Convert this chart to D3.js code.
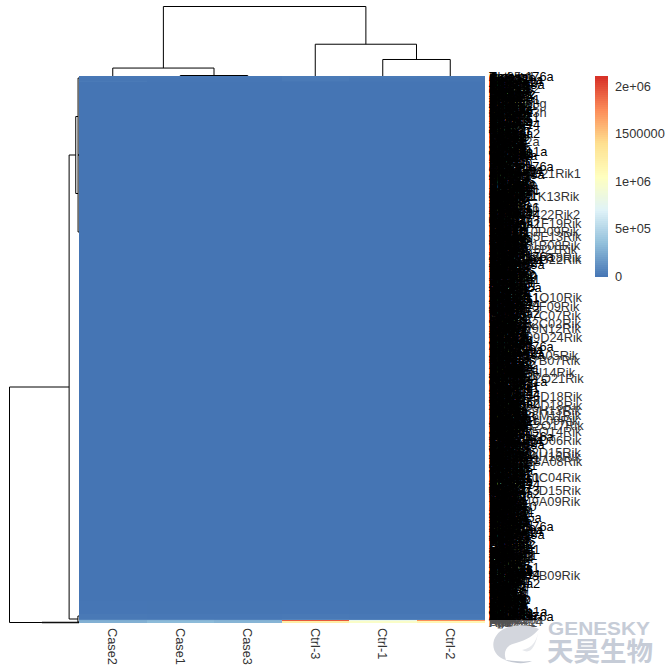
<!DOCTYPE html>
<html><head><meta charset="utf-8">
<script src="https://cdn.jsdelivr.net/npm/d3@7"></script>
<style>html,body{margin:0;padding:0;background:#fff}svg{display:block}text{font-family:"Liberation Sans",Arial,sans-serif}</style>
</head><body><div id="chart"></div>
<script>
const samples = ["Case2","Case1","Case3","Ctrl-3","Ctrl-1","Ctrl-2"];
const rowCount = 2188;

// heat blocks: groups of near-identical rows (first row, one past last row)
const blockFirstRow = [0,8,20,24,2100,2150,2170,2176,2180];
const blockLastRow  = [8,20,24,2100,2150,2170,2176,2180,2188];
const valCase2 = [15000,10000,25000,0,5000,20000,60000,260000,280000];
const valCase1 = [15000,5000,5000,0,4000,15000,60000,300000,330000];
const valCase3 = [15000,5000,5000,0,4000,15000,50000,280000,300000];
const valCtrl3 = [30000,25000,10000,0,5000,20000,70000,1950000,1250000];
const valCtrl1 = [25000,8000,5000,0,4000,15000,60000,800000,1000000];
const valCtrl2 = [20000,8000,5000,0,4000,15000,50000,1750000,1150000];
const sampleValues = [valCase2,valCase1,valCase3,valCtrl3,valCtrl1,valCtrl2];

// colour key
const legendMax = 2105000;
const legendTicks = [0,500000,1000000,1500000,2000000];
const legendTickLabels = ["0","5e+05","1e+06","1500000","2e+06"];
const palette = ["#4575B4","#91BFDB","#E0F3F8","#FFFFBF","#FEE090","#FC8D59","#D73027"];

// column tree: [child, child, height]; negative child = leaf -(i+1), otherwise merge index
const colMerges = [[-2,-3,0.25],[-1,0,4.0],[-5,-6,8.31],[-4,2,16.0],[1,3,35.0]];
const colTreeMax = 35.0;

// row tree: same coding, leaves are row numbers -(row+1)
const rowMerges = [
 [-9,-317,0.6],[-317,-625,0.6],[0,1,2.1],
 [-2161,-2185,0.7],[2,3,6.4],
 [-2186,-2188,24.0],[4,5,45.0]];
const rowTreeMax = 45.0;

// gene labels that stick out on the right, with their row
const longNames = ["Slc25a1","Serpinb2","Pcdhga3g","Apobec3h","Nudt22","Ccdc12a","Wnt10b","170016D21Rik1","Ugt1a7e","6330411K13Rik","Tmem26","630404K22Rik2","D630041F19Rik","2010110P09Rik","A630095E13Rik","9330161B08Rik","C130026I21Rik","B230118H18Rik","4930412G22Rik","Gpr153","Snord30","Rps12","A930011O10Rik","4833420F09Rik","5730507C07Rik","2900092C02Rik","1700019N12Rik","E130309D24Rik","1110034A05Rik","2610507B07Rik","4930526I14Rik","D430042O21Rik","B130006D18Rik","A830080D18Rik","2310039H13Rik","9530036M11Rik","1810041L09Rik","C230012O17Rik","4921525O14Rik","1500015O06Rik","9930022D15Rik","4632404H16Rik","C330018A08Rik","5031410C04Rik","6030443D15Rik","2700049A09Rik","Tdrd1a","Hspa12","Capn2a","Hoxa5a","Klk1b","6030408B09Rik","Ccl12","Zfp36g","Ptprb","Mrpl2","Nudt2","Krtaa1","Rpl1"];
const longRows  = [0,48,108,144,228,260,316,388,432,480,524,552,588,620,640,676,692,724,732,752,800,848,884,920,956,988,1008,1044,1116,1136,1184,1208,1280,1316,1336,1356,1376,1396,1420,1456,1504,1520,1540,1604,1656,1700,1768,1828,1904,1928,1984,1996,2008,2048,2088,2116,2136,2160,2184];

// the dense block of row labels, read in the order of the tree
const denseNames = "Actb Gapdh Eef1a1 Rpl3 Rps2 Fth1 Ftl1 Hspa8 Ubb Ubc Cd74 Lyz2 Sparcl1 Col1a1 Mgp Dcn Lum Bgn Vim Tmsb4x Tagln2 Acta2 Myl9 Cald1 Tpm2 Sncg Cst3 Apoe Clu Ctsd Ctsb Lgals1 Anxa11 Anxa2 S100a6 S100a4 Ppia Pfn1 Cfl1 Ywhaz Sod1 Prdx1 Gstp1 Mt1 Hmox1 Nfkb1 Rela Stat3 Jun Fos Egr1 Myc Atf3 Klf4 Klf2 Sox9 Gata3 Pax6 Tbx3 Foxa1 Hnf4a Cebpb Ppara Pparg2 Srebf1 Fasn Scd1 Acaca Elovl6 Ldlr Hmgcr Abca1 Apoa1 Alb Ttr Serpina1a Cyp2e1 Cyp1a2 Gstm1 Ugt1a6a Aldob Pck1 G6pc Mup1 Hp Fgb Fga Ins2 Gcg Sst Ppy Cpa1 Ctrb1 Prss2 Cela1 Amy2a5 Myh7 Myh6 Tnnt2 Actc1 Mb Ckm Pln Ryr2 Nppa Nppb Slc2a4 Slc7a5 Slc1a3 Slc6a4 Slc16a3 Kcnj11 Kcna2 Scn1a Cacna1c Gabra1 Gria2 Grin1 Syt1 Snap25 Stx1a Vamp2 Map2 Mapt Tubb3 Nefl Gfap Aqp4 Olig2 Mbp Plp1 Mog Cd4 Cd8a Cd3e Cd19 Cd68 Itgam Ptprc Il6 Il1b Tnf Ccl2 Cxcl1 Cxcl10 Ifng Tgfb1 Vegfa Pdgfrb Egfr Fgfr1 Igf1 Igf2 Wnt5a Fzd7 Ctnnb1 Notch1 Jag1 Hes1 Shh Gli1 Bmp4 Smad3 Tp53 Cdkn1a Ccnd1 Ccnb1 Cdk1 Mki67 Top2a Pcna Mcm2 Rad51 Brca1 Atm Bax Bcl2 Casp3 Mtor Akt1 Pten Kras Raf1 Mapk1 Lmna Tln1 Vcl Itgb1 Cdh1 Cdh2 Cldn5 Ocln Tjp1 Gja1 Lamb1 Nid1 Hspg2 Mmp2 Mmp9 Timp1 Adam10 Ntf3 Bdnf Ngf Rbfox3 Dlg4 Homer1 Arc Nr4a1 Dusp1 Ier2 Gadd45a Sirt1 Prkaa1 Ndufa1 Cox4i1 Atp5a1 Cycs Tfam Polg Xist Malat1 Neat1 Meg3 Snhg1 Gas5 Hbb Hba Alas2 Tfrc".split(" ");
// longer names that make the block's fuzzy right edge
const edgeNames = "Tmem176a Ccdc80 Fam129a Slc39a14 Arhgap2 Ppp1r15a Zfp36l1 Rnf213 Pdlim5 Tnfaip3 Nfkbia Sema3c Plekha2 Dnajb9 Hspa1a Serpine1 Igfbp5 Thbs1 Ankrd1 Rasgrp1 Cacnb2 Ttc39b Kcnq1 Mylk3 Lrrc32 Tspan8 Gpr116 Adamts1 Ptpn13 Sh3bp5 Rab11a Atp2a2 Cyp4a14 Abcc9 Tcf7l2 Pcdh17 Ephb2 Nedd4l Smarca2 Wdr81 Trim21 Usp18 Ifit3b Oasl2 Irf7a Mx1a2 Stat5b Rgs16 Gpnmb Zbtb16 Lgals3 Sprr1a Krt18a Muc13 Tgm2a Pik3r1 Rictor1 Mical2 Dock10 Atg16l1".split(" ");

const W=672, H=672;
const heat={left:79,right:484,top:76,bottom:623};
const svg=d3.select("#chart").append("svg").attr("width",W).attr("height",H);
const fontSize=12.8;

const x=d3.scaleBand().domain(d3.range(samples.length)).range([heat.left,heat.right]);
const y=d3.scaleLinear().domain([0,rowCount]).range([heat.top,heat.bottom]);
const colour=d3.scaleLinear().domain(palette.map((c,i)=>i*legendMax/(palette.length-1))).range(palette).interpolate(d3.interpolateRgb);

// heat cells
const cells=[];
sampleValues.forEach((vals,c)=>vals.forEach((v,b)=>cells.push({c,b,v})));
svg.append("g").attr("shape-rendering","crispEdges").selectAll("rect").data(cells).join("rect")
 .attr("x",d=>x(d.c)).attr("width",x.bandwidth()+0.5)
 .attr("y",d=>y(blockFirstRow[d.b])).attr("height",d=>y(blockLastRow[d.b])-y(blockFirstRow[d.b]))
 .attr("fill",d=>colour(d.v));

// dendrograms
function drawTree(merges,leafPos,heightPos,vertical){
  const pos=ref=>{
    if(ref<0) return {p:leafPos(-ref-1),h:heightPos(0)};
    const m=merges[ref], a=pos(m[0]), b=pos(m[1]);
    return {p:(a.p+b.p)/2,h:heightPos(m[2])};
  };
  const g=svg.append("g").attr("fill","none").attr("stroke","#000").attr("stroke-width",1);
  merges.forEach(m=>{
    const a=pos(m[0]), b=pos(m[1]), h=heightPos(m[2]);
    const pts=[[a.h,a.p],[h,a.p],[h,b.p],[b.h,b.p]];
    g.append("path").attr("d",d3.line().x(q=>vertical?q[1]:q[0]).y(q=>vertical?q[0]:q[1])(pts));
  });
}
const colLeaf=i=>x(i)+x.bandwidth()/2;
drawTree(colMerges,colLeaf,d3.scaleLinear().domain([0,colTreeMax]).range([heat.top,6.5]),true);
drawTree(rowMerges,r=>y(r),d3.scaleLinear().domain([0,rowTreeMax]).range([heat.left,9.5]),false);

// row labels: the long ones lie under the dense block, only their tails show
const rowG=svg.append("g").attr("font-size",fontSize).attr("fill","#000");
rowG.selectAll("text.l").data(longNames).join("text").attr("class","l")
 .attr("x",489).attr("y",(d,i)=>y(longRows[i])).attr("dy","0.36em").attr("fill","#333").text(d=>d);
const edgeRows=d3.range(2,rowCount,6);
rowG.selectAll("text.e").data(edgeRows).join("text").attr("class","e")
 .attr("x",489).attr("y",r=>y(r)).attr("dy","0.36em")
 .text((r,i)=>edgeNames[i%edgeNames.length]);
const denseRows=d3.range(0,rowCount,4);
rowG.selectAll("text.d").data(denseRows).join("text").attr("class","d")
 .attr("x",489).attr("y",r=>y(r)).attr("dy","0.36em")
 .text((r,i)=>denseNames[i%denseNames.length]);

// column labels
const xAxis=svg.append("g").attr("transform",`translate(0,${heat.bottom+5})`)
 .call(d3.axisBottom(x).tickSize(0).tickPadding(0).tickFormat(i=>samples[i]));
xAxis.select(".domain").remove();
xAxis.selectAll("text").attr("font-size",fontSize).attr("font-family",null).attr("fill","#333")
 .attr("text-anchor","start").attr("transform","rotate(90)").attr("x",0).attr("y",0).attr("dy","0.36em");

// colour key
const keyTop=76,keyBottom=276,keyL=595,keyR=608;
const keyY=d3.scaleLinear().domain([0,legendMax]).range([keyBottom,keyTop]);
const keySteps=d3.range(0,100).map(i=>i*legendMax/100);
svg.append("g").attr("shape-rendering","crispEdges").selectAll("rect").data(keySteps).join("rect")
 .attr("x",keyL).attr("width",keyR-keyL).attr("y",d=>keyY(d+legendMax/100)).attr("height",keyY(0)-keyY(legendMax/100)+0.5)
 .attr("fill",d=>colour(d+legendMax/200));
const keyAxis=svg.append("g").attr("transform",`translate(${keyR},0)`)
 .call(d3.axisRight(keyY).tickValues(legendTicks).tickSize(0).tickPadding(7).tickFormat((d,i)=>legendTickLabels[i]));
keyAxis.select(".domain").remove();
keyAxis.selectAll("text").attr("font-size",fontSize).attr("font-family",null).attr("fill","#333");

// watermark
const wm=svg.append("g");
wm.append("rect").attr("x",486).attr("y",620).attr("width",60).attr("height",12).attr("fill","#fff").attr("opacity",0.32);
wm.append("rect").attr("x",486).attr("y",628.5).attr("width",60).attr("height",8).attr("fill","#fff");
wm.append("path").attr("fill","#d3d6dd").attr("d","M539,629 C524,622 500,624 494,640 C491,650 498,658 506,660 C503,652 506,645 516,643 C527,640 533,636 539,629 Z");
wm.append("path").attr("fill","#e6e8ec").attr("d","M539,629 C537,640 533,648 522,650 C530,654 535,650 539,629 Z");
wm.append("path").attr("fill","#c3c8d2").attr("d","M505,660 C515,664 525,664 532,661 C522,662 513,661 505,660 Z");
wm.append("text").attr("x",548).attr("y",635).attr("font-size",18.5).attr("textLength",102).attr("lengthAdjust","spacingAndGlyphs").attr("fill","#c6ccd7").attr("font-weight","bold").text("GENESKY");
wm.append("text").attr("x",547).attr("y",661).attr("font-size",26.5).attr("font-weight","bold").attr("fill","#c6ccd7").style("font-family","'Noto Sans CJK SC'").text("天昊生物");
</script></body></html>
